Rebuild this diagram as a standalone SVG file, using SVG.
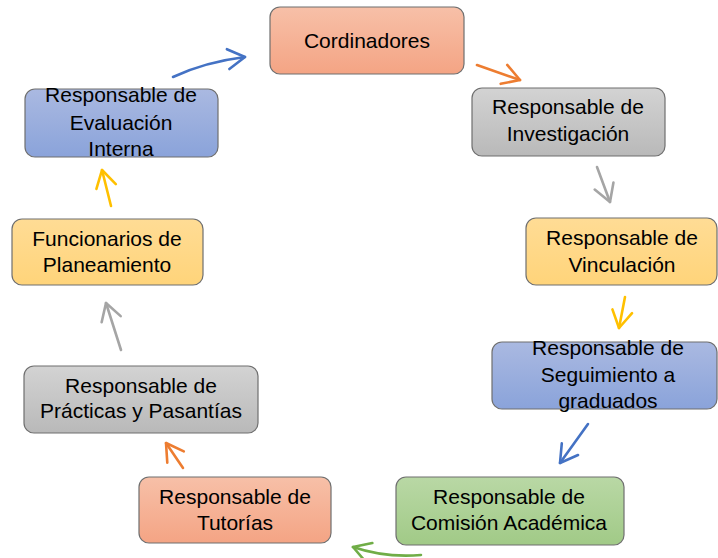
<svg xmlns="http://www.w3.org/2000/svg" width="718" height="558" viewBox="0 0 718 558">
<style>
.box{stroke:#6f6f6f;stroke-width:1.2}
.t{font-family:"Liberation Sans",Arial,sans-serif;font-size:21px;fill:#000;text-anchor:middle}
.c{fill:none;stroke-width:2.6;stroke-linecap:round}
</style>
<defs>
<linearGradient id="gO" x1="0" y1="0" x2="0" y2="1"><stop offset="0" stop-color="#F7C0A8"/><stop offset="1" stop-color="#F4A484"/></linearGradient>
<linearGradient id="gG" x1="0" y1="0" x2="0" y2="1"><stop offset="0" stop-color="#D3D3D3"/><stop offset="1" stop-color="#B9B9B9"/></linearGradient>
<linearGradient id="gY" x1="0" y1="0" x2="0" y2="1"><stop offset="0" stop-color="#FFDC95"/><stop offset="1" stop-color="#FFD47A"/></linearGradient>
<linearGradient id="gB" x1="0" y1="0" x2="0" y2="1"><stop offset="0" stop-color="#AAB9E1"/><stop offset="1" stop-color="#8AA3DA"/></linearGradient>
<linearGradient id="gN" x1="0" y1="0" x2="0" y2="1"><stop offset="0" stop-color="#B9D8A5"/><stop offset="1" stop-color="#A1CA87"/></linearGradient>
<marker id="mB" markerUnits="userSpaceOnUse" markerWidth="40" markerHeight="40" viewBox="-20 -20 40 40" refX="0" refY="0" orient="auto" overflow="visible"><path d="M-17,-10 L0,0 L-17,10" fill="none" stroke="#4472C4" stroke-width="2.6" stroke-linecap="round" stroke-linejoin="round"/></marker>
<marker id="mO" markerUnits="userSpaceOnUse" markerWidth="40" markerHeight="40" viewBox="-20 -20 40 40" refX="0" refY="0" orient="auto" overflow="visible"><path d="M-17,-10 L0,0 L-17,10" fill="none" stroke="#ED7D31" stroke-width="2.6" stroke-linecap="round" stroke-linejoin="round"/></marker>
<marker id="mG" markerUnits="userSpaceOnUse" markerWidth="40" markerHeight="40" viewBox="-20 -20 40 40" refX="0" refY="0" orient="auto" overflow="visible"><path d="M-17,-10 L0,0 L-17,10" fill="none" stroke="#A5A5A5" stroke-width="2.6" stroke-linecap="round" stroke-linejoin="round"/></marker>
<marker id="mY" markerUnits="userSpaceOnUse" markerWidth="40" markerHeight="40" viewBox="-20 -20 40 40" refX="0" refY="0" orient="auto" overflow="visible"><path d="M-17,-10 L0,0 L-17,10" fill="none" stroke="#FFC000" stroke-width="2.6" stroke-linecap="round" stroke-linejoin="round"/></marker>
<marker id="mN" markerUnits="userSpaceOnUse" markerWidth="40" markerHeight="40" viewBox="-20 -20 40 40" refX="0" refY="0" orient="auto" overflow="visible"><path d="M-17,-10 L0,0 L-17,10" fill="none" stroke="#70AD47" stroke-width="2.6" stroke-linecap="round" stroke-linejoin="round"/></marker>
</defs>
<rect width="718" height="558" fill="#fff"/>

<g id="connectors">
<path class="c" stroke="#4472C4" d="M173,77 Q205,62 245,57" marker-end="url(#mB)"/>
<path class="c" stroke="#ED7D31" d="M477,65 L520,80" marker-end="url(#mO)"/>
<path class="c" stroke="#A5A5A5" d="M597,167 L610,202" marker-end="url(#mG)"/>
<path class="c" stroke="#FFC000" d="M625,297 L619,328" marker-end="url(#mY)"/>
<path class="c" stroke="#4472C4" d="M588,424 L560,463" marker-end="url(#mB)"/>
<path class="c" stroke="#70AD47" d="M421,555 Q385,558 353,547" marker-end="url(#mN)"/>
<path class="c" stroke="#ED7D31" d="M183,468 L166,443" marker-end="url(#mO)"/>
<path class="c" stroke="#A5A5A5" d="M121,350 L106,303" marker-end="url(#mG)"/>
<path class="c" stroke="#FFC000" d="M111,206 L102,170" marker-end="url(#mY)"/>
</g>

<g id="cordinadores">
<rect class="box" x="270" y="7" width="194" height="67" rx="10" fill="url(#gO)"/>
<text class="t" x="367" y="48">Cordinadores</text>
</g>
<g id="investigacion">
<rect class="box" x="472" y="88" width="193" height="68" rx="10" fill="url(#gG)"/>
<text class="t" x="568" y="114">Responsable de</text>
<text class="t" x="568" y="141">Investigación</text>
</g>
<g id="vinculacion">
<rect class="box" x="526" y="218" width="191" height="67" rx="10" fill="url(#gY)"/>
<text class="t" x="622" y="245">Responsable de</text>
<text class="t" x="622" y="272">Vinculación</text>
</g>
<g id="seguimiento">
<rect class="box" x="492" y="342" width="225" height="67" rx="10" fill="url(#gB)"/>
<text class="t" x="608" y="355">Responsable de</text>
<text class="t" x="608" y="382">Seguimiento a</text>
<text class="t" x="608" y="408">graduados</text>
</g>
<g id="comision">
<rect class="box" x="396" y="477" width="228" height="68" rx="10" fill="url(#gN)"/>
<text class="t" x="509" y="504">Responsable de</text>
<text class="t" x="509" y="530">Comisión Académica</text>
</g>
<g id="tutorias">
<rect class="box" x="139" y="477" width="192" height="66" rx="10" fill="url(#gO)"/>
<text class="t" x="235" y="504">Responsable de</text>
<text class="t" x="235" y="530">Tutorías</text>
</g>
<g id="practicas">
<rect class="box" x="24" y="366" width="234" height="67" rx="10" fill="url(#gG)"/>
<text class="t" x="141" y="393">Responsable de</text>
<text class="t" x="141" y="418">Prácticas y Pasantías</text>
</g>
<g id="funcionarios">
<rect class="box" x="12" y="219" width="191" height="66" rx="10" fill="url(#gY)"/>
<text class="t" x="107" y="246">Funcionarios de</text>
<text class="t" x="107" y="272">Planeamiento</text>
</g>
<g id="evaluacion">
<rect class="box" x="25" y="89" width="193" height="68" rx="10" fill="url(#gB)"/>
<text class="t" x="121" y="102">Responsable de</text>
<text class="t" x="121" y="130">Evaluación</text>
<text class="t" x="121" y="156">Interna</text>
</g>
</svg>
